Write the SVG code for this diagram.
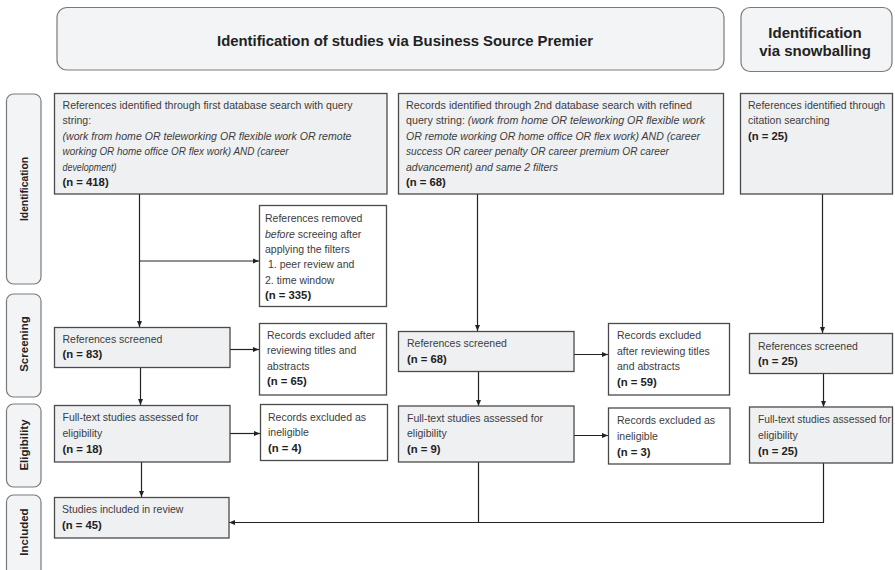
<svg xmlns="http://www.w3.org/2000/svg" width="895" height="570" viewBox="0 0 895 570">
<defs>
<style>
.box{fill:#eff0f2;stroke:#4a4a4a;stroke-width:1.3}
.wbox{fill:#ffffff;stroke:#4a4a4a;stroke-width:1.3}
.hdr{fill:#f3f4f6;stroke:#7a7a7a;stroke-width:1.2}
.t{font-family:"Liberation Sans",Arial,sans-serif;font-size:10.5px;fill:#3c3c3c}
.i{font-style:italic}
.b{font-weight:bold;fill:#222;font-size:11.3px}
.h{font-family:"Liberation Sans",Arial,sans-serif;font-size:15px;font-weight:bold;fill:#222;text-anchor:middle}
.s{font-family:"Liberation Sans",Arial,sans-serif;font-size:11.5px;font-weight:bold;fill:#222;text-anchor:middle}
.c{fill:none;stroke:#222;stroke-width:1.2}
</style>
<marker id="ah" markerWidth="6" markerHeight="6" refX="6" refY="3" orient="auto" markerUnits="userSpaceOnUse"><path d="M0,0.5 L6,3 L0,5.5z" fill="#222"/></marker>
</defs>
<rect width="895" height="570" fill="#ffffff"/>

<g id="lane-identification"><rect class="hdr" x="6.5" y="94" width="34.5" height="190" rx="7"/><text class="s" transform="translate(28,189) rotate(-90)" textLength="64" lengthAdjust="spacingAndGlyphs">Identification</text></g>
<g id="lane-screening"><rect class="hdr" x="6.5" y="294" width="34.5" height="103" rx="7"/><text class="s" transform="translate(28,344) rotate(-90)">Screening</text></g>
<g id="lane-eligibility"><rect class="hdr" x="6.5" y="404" width="34.5" height="83" rx="7"/><text class="s" transform="translate(28,445) rotate(-90)">Eligibility</text></g>
<g id="lane-included"><rect class="hdr" x="6.5" y="495" width="34.5" height="85" rx="7"/><text class="s" transform="translate(28,532) rotate(-90)">Included</text></g>

<g id="header-bsp"><rect class="hdr" x="57" y="7.5" width="667" height="62.5" rx="10"/><text class="h" x="405" y="46" textLength="376" lengthAdjust="spacingAndGlyphs">Identification of studies via Business Source Premier</text></g>
<g id="header-snowball"><rect class="hdr" x="741" y="7.5" width="151" height="64" rx="9"/><text class="h" x="815" y="38">Identification</text><text class="h" x="815" y="56">via snowballing</text></g>

<g id="connectors">
<path class="c" d="M139.5,194 V327" marker-end="url(#ah)"/>
<path class="c" d="M139.5,261 H259" marker-end="url(#ah)"/>
<path class="c" d="M230,349.5 H259" marker-end="url(#ah)"/>
<path class="c" d="M140.5,367 V405" marker-end="url(#ah)"/>
<path class="c" d="M230,433.5 H260" marker-end="url(#ah)"/>
<path class="c" d="M141.5,462 V497" marker-end="url(#ah)"/>
<path class="c" d="M477.5,194 V331" marker-end="url(#ah)"/>
<path class="c" d="M574,354.5 H608" marker-end="url(#ah)"/>
<path class="c" d="M478.5,371.5 V406" marker-end="url(#ah)"/>
<path class="c" d="M574,435.5 H608" marker-end="url(#ah)"/>
<path class="c" d="M478.5,462 V522.5"/>
<path class="c" d="M823.5,463 V522.5 H229" marker-end="url(#ah)"/>
<path class="c" d="M822.5,194 V333" marker-end="url(#ah)"/>
<path class="c" d="M823.5,373.5 V407" marker-end="url(#ah)"/>
</g>

<g id="db1">
<rect class="box" x="54.5" y="93.5" width="332.5" height="100.5"/>
<text class="t" x="62.5" y="109" textLength="290" lengthAdjust="spacingAndGlyphs">References identified through first database search with query</text>
<text class="t" x="62.5" y="124">string:</text>
<text class="t i" x="62.5" y="139.5" textLength="289" lengthAdjust="spacingAndGlyphs">(work from home OR teleworking OR flexible work OR remote</text>
<text class="t i" x="62.5" y="155" textLength="226" lengthAdjust="spacingAndGlyphs">working OR home office OR flex work) AND (career</text>
<text class="t i" x="62.5" y="170.5" textLength="54" lengthAdjust="spacingAndGlyphs">development)</text>
<text class="t b" x="62.5" y="186">(n = 418)</text>
</g>

<g id="db2">
<rect class="box" x="398.5" y="93.5" width="325" height="100.5"/>
<text class="t" x="406" y="109" textLength="286" lengthAdjust="spacingAndGlyphs">Records identified through 2nd database search with refined</text>
<text class="t" x="406" y="124" textLength="299" lengthAdjust="spacingAndGlyphs">query string: <tspan class="i">(work from home OR teleworking OR flexible work</tspan></text>
<text class="t i" x="406" y="139.5" textLength="294" lengthAdjust="spacingAndGlyphs">OR remote working OR home office OR flex work) AND (career</text>
<text class="t i" x="406" y="155" textLength="263" lengthAdjust="spacingAndGlyphs">success OR career penalty OR career premium OR career</text>
<text class="t i" x="406" y="170.5" textLength="152" lengthAdjust="spacingAndGlyphs">advancement) and same 2 filters</text>
<text class="t b" x="406" y="186">(n = 68)</text>
</g>

<g id="citation">
<rect class="box" x="740.5" y="93.5" width="152" height="100.5"/>
<text class="t" x="748" y="109">References identified through</text>
<text class="t" x="748" y="124">citation searching</text>
<text class="t b" x="748" y="139.5">(n = 25)</text>
</g>

<g id="removed">
<rect class="wbox" x="259.5" y="205.5" width="127" height="101"/>
<text class="t" x="265" y="222">References removed</text>
<text class="t" x="265" y="237.5"><tspan class="i">before</tspan>  screeing after</text>
<text class="t" x="265" y="253">applying the filters</text>
<text class="t" x="268" y="268">1. peer review and</text>
<text class="t" x="265" y="283.5">2. time window</text>
<text class="t b" x="265" y="299">(n = 335)</text>
</g>

<g id="screened1">
<rect class="box" x="54.5" y="327.5" width="175.5" height="40"/>
<text class="t" x="62.5" y="342.5">References screened</text>
<text class="t b" x="62.5" y="357.5">(n = 83)</text>
</g>

<g id="excluded1">
<rect class="wbox" x="259.5" y="323.5" width="127" height="71.5"/>
<text class="t" x="267" y="338.5">Records excluded after</text>
<text class="t" x="267" y="354">reviewing titles and</text>
<text class="t" x="267" y="369.5">abstracts</text>
<text class="t b" x="267" y="385">(n = 65)</text>
</g>

<g id="fulltext1">
<rect class="box" x="54.5" y="405.5" width="175.5" height="56.5"/>
<text class="t" x="62.5" y="421">Full-text studies assessed for</text>
<text class="t" x="62.5" y="437">eligibility</text>
<text class="t b" x="62.5" y="453">(n = 18)</text>
</g>

<g id="ineligible1">
<rect class="wbox" x="260.5" y="404.5" width="127" height="56"/>
<text class="t" x="268" y="421">Records excluded as</text>
<text class="t" x="268" y="436">ineligible</text>
<text class="t b" x="268" y="452">(n = 4)</text>
</g>

<g id="included">
<rect class="box" x="54.5" y="497.5" width="174.5" height="40.5"/>
<text class="t" x="62" y="513">Studies included in review</text>
<text class="t b" x="62" y="528.5">(n = 45)</text>
</g>

<g id="screened2">
<rect class="box" x="398.5" y="331.5" width="175.5" height="40"/>
<text class="t" x="407" y="346.5">References screened</text>
<text class="t b" x="407" y="362.5">(n = 68)</text>
</g>

<g id="excluded2">
<rect class="wbox" x="608.5" y="323.5" width="121" height="71.5"/>
<text class="t" x="617" y="338.5">Records excluded</text>
<text class="t" x="617" y="354.5">after reviewing titles</text>
<text class="t" x="617" y="370">and abstracts</text>
<text class="t b" x="617" y="385.5">(n = 59)</text>
</g>

<g id="fulltext2">
<rect class="box" x="398.5" y="406" width="175.5" height="56"/>
<text class="t" x="407" y="421.5">Full-text studies assessed for</text>
<text class="t" x="407" y="437">eligibility</text>
<text class="t b" x="407" y="453">(n = 9)</text>
</g>

<g id="ineligible2">
<rect class="wbox" x="608.5" y="408" width="121.5" height="56"/>
<text class="t" x="617" y="423.5">Records excluded as</text>
<text class="t" x="617" y="439.5">ineligible</text>
<text class="t b" x="617" y="455.5">(n = 3)</text>
</g>

<g id="screened3">
<rect class="box" x="749.5" y="333.5" width="143" height="40"/>
<text class="t" x="758" y="349.5">References screened</text>
<text class="t b" x="758" y="365">(n = 25)</text>
</g>

<g id="fulltext3">
<rect class="box" x="749.5" y="407" width="143" height="56"/>
<text class="t" x="758" y="423" textLength="133" lengthAdjust="spacingAndGlyphs">Full-text studies assessed for</text>
<text class="t" x="758" y="439">eligibility</text>
<text class="t b" x="758" y="455">(n = 25)</text>
</g>
</svg>
